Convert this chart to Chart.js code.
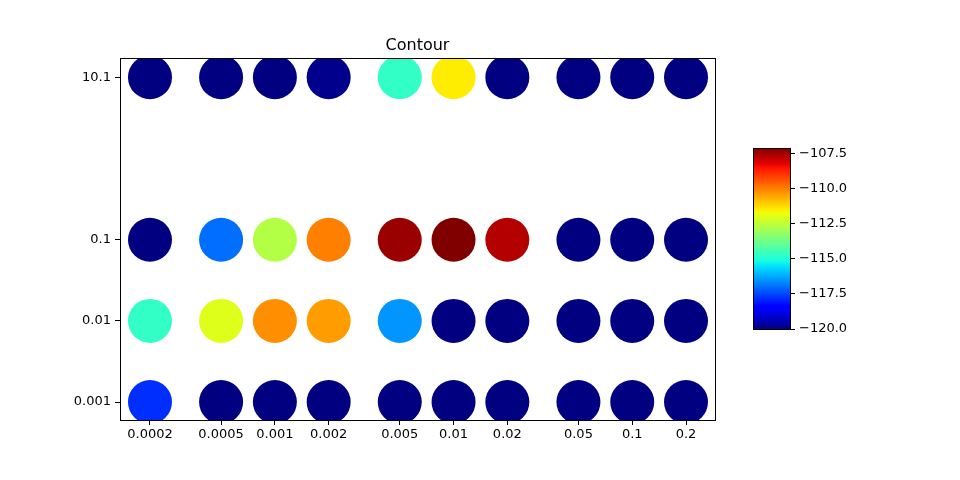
<!DOCTYPE html>
<html>
<head>
<meta charset="utf-8">
<script src="https://cdn.jsdelivr.net/npm/chart.js@4"></script>
<style>
    body { margin: 0; background: #fff; }
    #wrap { position: relative; width: 960px; height: 480px; }
    #main { position: absolute; left: 0; top: 0; width: 960px; height: 480px; }
    #cbar { position: absolute; left: 700px; top: 0; width: 260px; height: 480px; }
</style>
</head>
<body>
<div id="wrap">
    <div id="main"><canvas id="myChart"></canvas></div>
    <div id="cbar"><canvas id="barChart"></canvas></div>
</div>
<script>
/* 데이터 */
const xVals = [0.0002, 0.0005, 0.001, 0.002, 0.005, 0.01, 0.02, 0.05, 0.1, 0.2];
const xLabels = ['0.0002', '0.0005', '0.001', '0.002', '0.005', '0.01', '0.02', '0.05', '0.1', '0.2'];
const yVals = [0.001, 0.01, 0.1, 10.1];
const yLabels = ['0.001', '0.01', '0.1', '10.1'];

// one row of levels per y value
const row0001 = [-117.8, -120, -120, -120, -120, -120, -120, -120, -120, -120];
const row001 = [-114.7, -112.0, -110.2, -110.4, -116.5, -120, -120, -120, -120, -120];
const row01 = [-120, -117.0, -112.7, -110.0, -107.4, -107.1, -107.7, -120, -120, -120];
const row101 = [-120, -120, -120, -119.85, -114.7, -111.5, -120, -120, -120, -120];
const rows = [row0001, row001, row01, row101];

const vMin = -120;
const vMax = -107.1;
const cbTicks = [-120, -117.5, -115, -112.5, -110, -107.5];

// matplotlib jet
const jetR = [[0, 0], [0.35, 0], [0.66, 1], [0.89, 1], [1, 0.5]];
const jetG = [[0, 0], [0.125, 0], [0.375, 1], [0.64, 1], [0.91, 0], [1, 0]];
const jetB = [[0, 0.5], [0.11, 1], [0.34, 1], [0.65, 0], [1, 0]];

function seg(s, t) {
    for (let i = 1; i < s.length; i++) {
        if (t <= s[i][0]) {
            let f = (t - s[i - 1][0]) / (s[i][0] - s[i - 1][0]);
            return s[i - 1][1] + f * (s[i][1] - s[i - 1][1]);
        }
    }
    return s[s.length - 1][1];
}

function jet(t) {
    t = Math.min(1, Math.max(0, t));
    let r = Math.round(seg(jetR, t) * 255);
    let g = Math.round(seg(jetG, t) * 255);
    let b = Math.round(seg(jetB, t) * 255);
    return 'rgb(' + r + ', ' + g + ', ' + b + ')';
}

function colorize(v) {
    return jet((v - vMin) / (vMax - vMin));
}

// 테두리
const boxPlugin = {
    id: 'box',
    afterDatasetsDraw(chart) {
        let a = chart.chartArea;
        let c = chart.ctx;
        c.save();
        c.strokeStyle = '#000';
        c.lineWidth = 1;
        c.strokeRect(Math.round(a.left) + 0.5, Math.round(a.top) + 0.5,
            Math.round(a.right - a.left), Math.round(a.bottom - a.top));
        c.restore();
    }
};

const fontFamily = '"DejaVu Sans", sans-serif';

let datasets = [];
for (let j = 0; j < yVals.length; j++) {
    let pts = [];
    let cols = [];
    for (let i = 0; i < xVals.length; i++) {
        pts.push({ x: xVals[i], y: yVals[j] });
        cols.push(colorize(rows[j][i]));
    }
    datasets.push({
        data: pts,
        backgroundColor: cols,
        borderWidth: 0,
        pointRadius: 22,
        pointHoverRadius: 22,
        clip: 0
    });
}

let ctx = document.getElementById('myChart').getContext('2d');
let myChart = new Chart(ctx, {
    type: 'scatter',
    data: { datasets: datasets },
    options: {
        responsive: true,
        maintainAspectRatio: false,
        animation: false,
        layout: { padding: { left: 0, top: 0, right: 245, bottom: 0 } },
        plugins: {
            legend: { display: false },
            tooltip: { enabled: false },
            title: {
                display: true,
                text: 'Contour',
                fullSize: false,
                color: '#000',
                font: { family: fontFamily, size: 16, weight: 'normal' },
                padding: { top: 36, bottom: 3 }
            }
        },
        scales: {
            x: {
                type: 'logarithmic',
                min: 1.359e-4,
                max: 0.2906,
                afterBuildTicks: function (scale) {
                    scale.ticks = xVals.map(v => ({ value: v }));
                },
                afterFit: function (scale) { scale.height = 60; },
                ticks: {
                    color: '#000',
                    font: { family: fontFamily, size: 13 },
                    autoSkip: false,
                    maxRotation: 0,
                    padding: 2,
                    callback: function (v, i) { return xLabels[i]; }
                },
                grid: { drawOnChartArea: false, color: '#000', tickLength: 5 },
                border: { color: '#000' }
            },
            y: {
                type: 'logarithmic',
                min: 6.0e-4,
                max: 17.34,
                afterBuildTicks: function (scale) {
                    scale.ticks = yVals.map(v => ({ value: v }));
                },
                afterFit: function (scale) { scale.width = 120; },
                ticks: {
                    color: '#000',
                    font: { family: fontFamily, size: 13 },
                    autoSkip: false,
                    padding: 4,
                    callback: function (v, i) { return yLabels[i]; }
                },
                grid: { drawOnChartArea: false, color: '#000', tickLength: 5 },
                border: { color: '#000' }
            }
        }
    },
    plugins: [boxPlugin]
});

/* 컬러바 */
let ctx2 = document.getElementById('barChart').getContext('2d');
let barChart = new Chart(ctx2, {
    type: 'bar',
    data: {
        labels: ['level'],
        datasets: [{
            data: [[vMin, vMax]],
            borderWidth: 0,
            barPercentage: 1,
            categoryPercentage: 1,
            backgroundColor: function (c) {
                let area = c.chart.chartArea;
                if (!area) return null;
                let g = c.chart.ctx.createLinearGradient(0, area.bottom, 0, area.top);
                for (let i = 0; i <= 64; i++) {
                    g.addColorStop(i / 64, jet(i / 64));
                }
                return g;
            }
        }]
    },
    options: {
        responsive: true,
        maintainAspectRatio: false,
        animation: false,
        layout: { padding: { left: 53, top: 148, right: 0, bottom: 151 } },
        plugins: {
            legend: { display: false },
            tooltip: { enabled: false }
        },
        scales: {
            x: { display: false },
            y: {
                position: 'right',
                min: vMin,
                max: vMax,
                afterBuildTicks: function (scale) {
                    scale.ticks = cbTicks.map(v => ({ value: v }));
                },
                afterFit: function (scale) { scale.width = 170; },
                ticks: {
                    color: '#000',
                    font: { family: fontFamily, size: 13 },
                    padding: 4,
                    callback: function (v) {
                        return (v < 0 ? '\u2212' : '') + Math.abs(v).toFixed(1);
                    }
                },
                grid: { drawOnChartArea: false, color: '#000', tickLength: 5 },
                border: { color: '#000' }
            }
        }
    },
    plugins: [boxPlugin]
});
</script>
</body>
</html>
